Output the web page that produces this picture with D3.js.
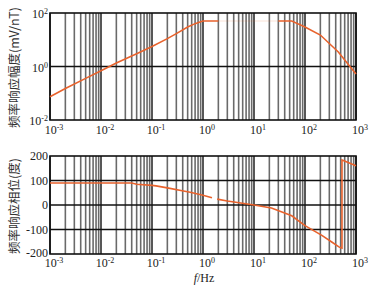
<!DOCTYPE html>
<html>
<head>
<meta charset="utf-8">
<script src="https://cdn.jsdelivr.net/npm/d3@7"></script>
<style>
  body { margin: 0; background: #fff; }
  svg { display: block; }
</style>
</head>
<body>
<svg id="chart" width="371" height="289"></svg>
<script>
// amplitude response (mV/nT)
const ampFreq = [0.001, 0.002, 0.005, 0.01, 0.02, 0.05, 0.1, 0.2, 0.3, 0.5, 0.7, 0.9, 1, 2];
const ampVals = [0.074, 0.15, 0.36, 0.69, 1.35, 3.0, 5.6, 11, 17, 30, 40, 47, 50, 50];
const ampGapFreq = [2, 30];
const ampGapVals = [50, 50];
const ampHighFreq = [30, 55, 100, 200, 450, 1000];
const ampHighVals = [50, 50, 30, 15, 3.5, 0.52];

// phase response (degrees)
const phFreqA = [0.001, 0.04, 0.05, 0.1, 0.12, 0.2, 0.44, 0.56, 1.0, 1.5];
const phValsA = [90, 90, 85, 80, 78, 70, 56, 52, 40, 30];
const phFreqB = [1.9, 3, 10, 22, 55, 100, 214, 340, 470, 531, 531, 1000];
const phValsB = [24, 16, 0, -12, -44, -84, -124, -152, -172, -176, 184, 160];

const xDecades = [-3, -2, -1, 0, 1, 2, 3];
const ampTicks = [-2, 0, 2];
const phTicks = [200, 100, 0, -100, -200];

const svg = d3.select("#chart");
const left = 50, right = 356;
const top1 = 13, bot1 = 120;
const top2 = 156, bot2 = 254;
const serif = "'Liberation Serif', 'DejaVu Serif', serif";
const cjk = "'Noto Sans CJK SC', sans-serif";
const lineColor = "#e8622c";

const x = d3.scaleLog().domain([1e-3, 1e3]).range([left, right]);
const yAmp = d3.scaleLog().domain([1e-2, 1e2]).range([bot1, top1]);
const yPh = d3.scaleLinear().domain([-200, 200]).range([bot2, top2]);

const minors = [];
xDecades.slice(0, -1).forEach(d => {
  for (let m = 2; m <= 9; m++) minors.push(m * Math.pow(10, d));
});

function panel(g, top, bot, yScale, hTicks) {
  g.selectAll(".minor").data(minors).enter().append("line")
    .attr("x1", d => x(d)).attr("x2", d => x(d))
    .attr("y1", top).attr("y2", bot)
    .attr("stroke", "#6a6a6a").attr("stroke-width", 1.6);
  g.selectAll(".major").data(xDecades).enter().append("line")
    .attr("x1", d => x(Math.pow(10, d))).attr("x2", d => x(Math.pow(10, d)))
    .attr("y1", top).attr("y2", bot)
    .attr("stroke", "#111").attr("stroke-width", 1.4);
  g.selectAll(".hgrid").data(hTicks).enter().append("line")
    .attr("x1", left).attr("x2", right)
    .attr("y1", d => yScale(d)).attr("y2", d => yScale(d))
    .attr("stroke", "#111").attr("stroke-width", 1.3);
  g.append("rect")
    .attr("x", left).attr("y", top)
    .attr("width", right - left).attr("height", bot - top)
    .attr("fill", "none").attr("stroke", "#111").attr("stroke-width", 1.6);
}

function powLabel(g, px, py, exp, anchor) {
  const t = g.append("text")
    .attr("x", px).attr("y", py)
    .attr("text-anchor", anchor)
    .attr("font-family", serif).attr("font-size", 12).attr("fill", "#222");
  t.append("tspan").text("10");
  t.append("tspan").attr("dy", -4).attr("font-size", 8).text(exp);
}

function xLabels(g, baseY) {
  xDecades.forEach(d => powLabel(g, x(Math.pow(10, d)) + 4, baseY, String(d), "middle"));
}

function curve(g, fs, vs, yScale, opacity) {
  const pts = fs.map((f, i) => [f, vs[i]]);
  g.append("path")
    .datum(pts)
    .attr("d", d3.line().x(d => x(d[0])).y(d => yScale(d[1])))
    .attr("fill", "none")
    .attr("stroke", lineColor)
    .attr("stroke-width", 1.6)
    .attr("stroke-opacity", opacity);
}

// top panel
const g1 = svg.append("g");
panel(g1, top1, bot1, yAmp, [1]);
curve(g1, ampFreq, ampVals, yAmp, 1);
curve(g1, ampGapFreq, ampGapVals, yAmp, 0.12);
curve(g1, ampHighFreq, ampHighVals, yAmp, 1);
ampTicks.forEach(e => powLabel(g1, 48, yAmp(Math.pow(10, e)) + 5, String(e), "end"));
xLabels(g1, 134);
g1.append("text")
  .attr("transform", "translate(19," + ((top1 + bot1) / 2 + 1) + ") rotate(-90)")
  .attr("text-anchor", "middle")
  .attr("font-family", cjk).attr("font-size", 12.5).attr("fill", "#333")
  .text("频率响应幅度(mV/nT)");

// bottom panel
const g2 = svg.append("g");
panel(g2, top2, bot2, yPh, [100, 0, -100]);
curve(g2, phFreqA, phValsA, yPh, 1);
curve(g2, phFreqB, phValsB, yPh, 1);
phTicks.forEach(v => {
  g2.append("text")
    .attr("x", 48).attr("y", yPh(v) + (v === -200 ? 3 : 4))
    .attr("text-anchor", "end")
    .attr("font-family", serif).attr("font-size", 12).attr("fill", "#222")
    .text(v);
});
xLabels(g2, 267);
g2.append("text")
  .attr("transform", "translate(19," + ((top2 + bot2) / 2 + 1) + ") rotate(-90)")
  .attr("text-anchor", "middle")
  .attr("font-family", cjk).attr("font-size", 12.5).attr("fill", "#333")
  .text("频率响应相位(度)");

const xl = svg.append("text")
  .attr("x", x(1) + 1).attr("y", 282)
  .attr("text-anchor", "middle")
  .attr("font-family", serif).attr("font-size", 12).attr("fill", "#222");
xl.append("tspan").attr("font-style", "italic").text("f");
xl.append("tspan").text("/Hz");
</script>
</body>
</html>
